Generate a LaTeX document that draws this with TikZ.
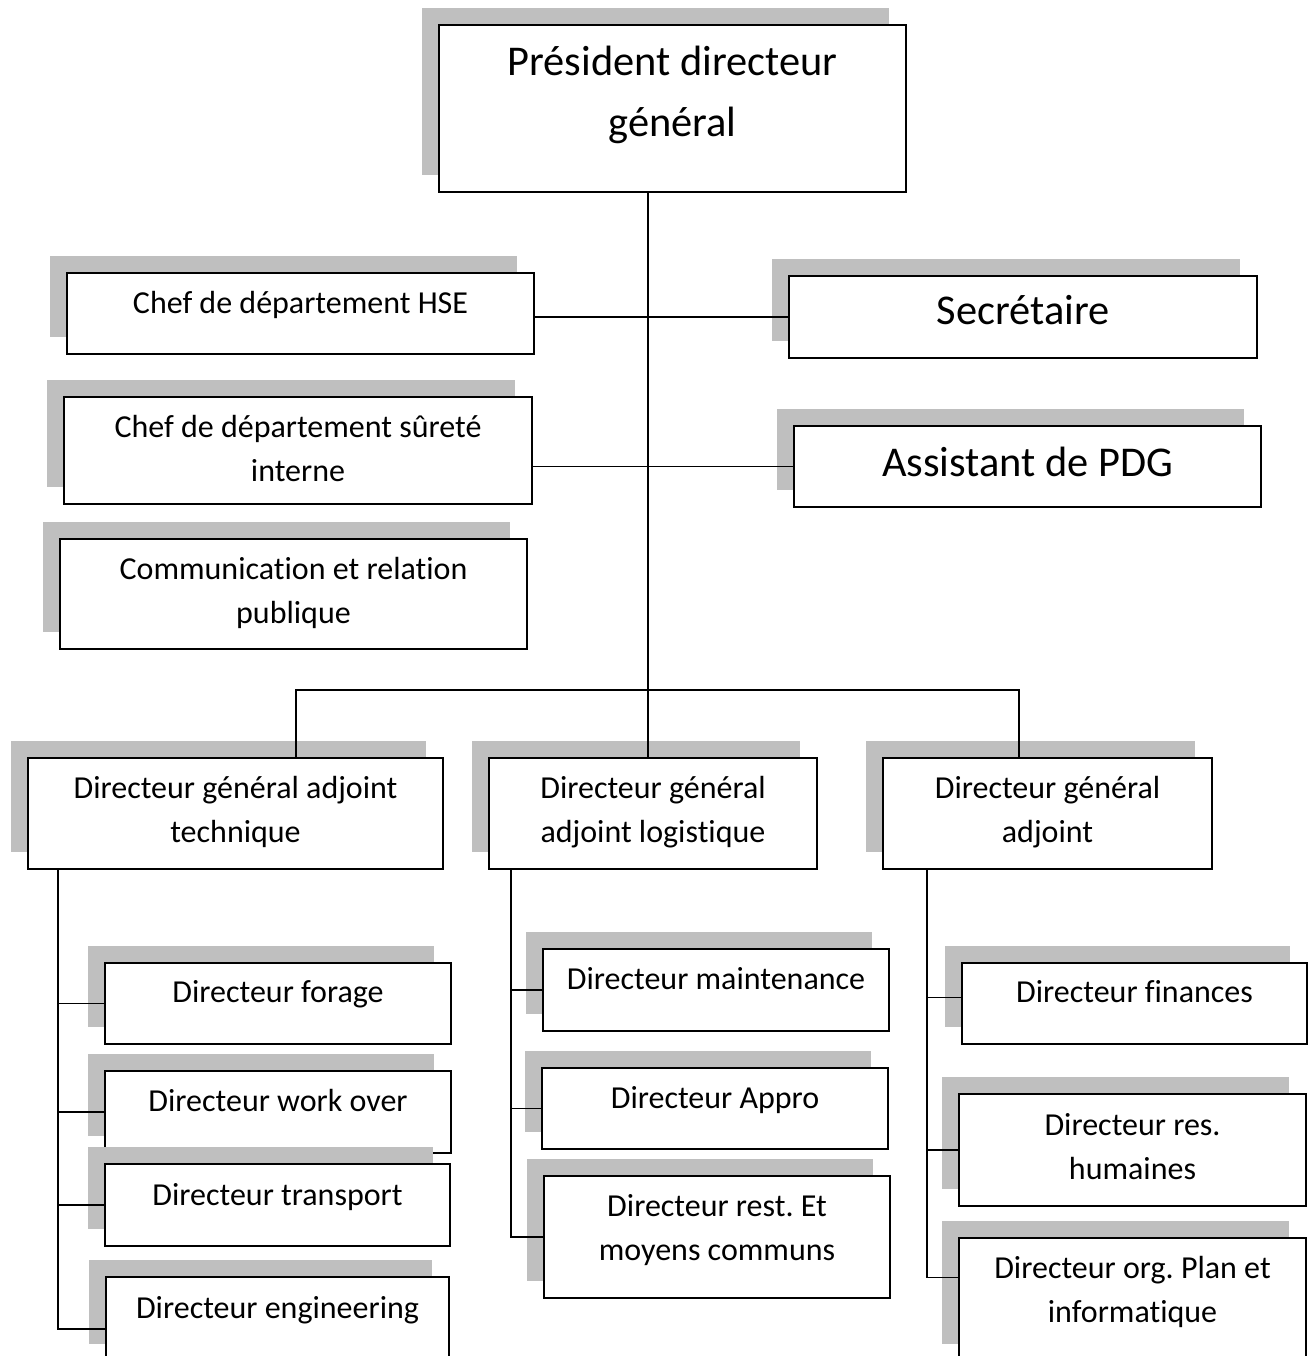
\documentclass[tikz,border=0pt]{standalone}
\usepackage{fontspec}
\setmainfont{Carlito}[Ligatures=NoCommon]
\usetikzlibrary{shadows}
\definecolor{shadowgray}{HTML}{BFBFBF}
\frenchspacing

\tikzset{
    orgbox/.style={draw, fill=white, line width=1.8pt, anchor=north, align=center,
        inner xsep=4pt, inner ysep=0pt, text height=41pt, text depth=41pt,
        font=\fontsize{32}{44}\selectfont,
        drop shadow={shadow xshift=-17pt, shadow yshift=17pt, opacity=1, fill=shadowgray}},
    bigtext/.style={font=\fontsize{42.4}{61}\selectfont},
    link/.style={line width=1.7pt}
}

\begin{document}
\begin{tikzpicture}[x=1pt, y=-1pt]
    \useasboundingbox (0,0) rectangle (1314,1356);
    \clip (0,0) rectangle (1314,1356);

    \node[orgbox, bigtext, minimum width=467pt, text height=112pt, text depth=55pt] (pdg) at (672.5,24) {Président directeur\\général};
    \node[orgbox, minimum width=467pt, text depth=40pt] (hse) at (300.5,272) {Chef de département HSE};
    \node[orgbox, bigtext, minimum width=468pt, text height=49pt, text depth=33pt] (sec) at (1023,275) {Secrétaire};
    \node[orgbox, minimum width=468pt, text height=85pt, text depth=22pt] (surete) at (298,396) {Chef de département sûreté\\interne};
    \node[orgbox, bigtext, minimum width=467pt, text height=51pt, text depth=30pt] (assist) at (1027.5,425) {Assistant de PDG};
    \node[orgbox, minimum width=467pt, text height=85pt, text depth=25pt] (comm) at (293.5,538) {Communication et relation\\publique};

    \node[orgbox, minimum width=415pt, text height=85pt, text depth=26pt] (dgat) at (235.5,757) {Directeur général adjoint\\technique};
    \node[orgbox, minimum width=328pt, text height=85pt, text depth=26pt] (dgal) at (653,757) {Directeur général\\adjoint logistique};
    \node[orgbox, minimum width=329pt, text height=85pt, text depth=26pt] (dga) at (1047.5,757) {Directeur général\\adjoint};

    \node[orgbox, minimum width=346pt, text height=40pt] (forage) at (278,962) {Directeur forage};
    \node[orgbox, minimum width=346pt] (wover) at (278,1070) {Directeur work over};
    \node[orgbox, minimum width=345pt, text height=42pt, text depth=40pt] (transp) at (277.5,1163) {Directeur transport};
    \node[orgbox, minimum width=343pt, text height=42pt, text depth=42pt] (engin) at (277.5,1276) {Directeur engineering};

    \node[orgbox, minimum width=346pt] (maint) at (716,948) {Directeur maintenance};
    \node[orgbox, minimum width=346pt, text depth=40pt] (appro) at (715,1067) {Directeur Appro};
    \node[orgbox, minimum width=346pt, text height=85pt, text depth=37pt] (rest) at (717,1175) {Directeur rest. Et\\moyens communs};

    \node[orgbox, minimum width=345pt, text height=40pt] (fin) at (1134.5,962) {Directeur finances};
    \node[orgbox, minimum width=347pt, text height=86pt, text depth=26pt] (rh) at (1132.5,1093) {Directeur res.\\humaines};
    \node[orgbox, minimum width=347pt, text height=85pt, text depth=38pt] (org) at (1132.5,1237) {Directeur org. Plan et\\informatique};

    \coordinate (bus) at (648,690);
    \coordinate (busl) at (296,690);
    \coordinate (busr) at (1019,690);
    \coordinate (trunkl) at (58,868);
    \coordinate (trunkm) at (511,868);
    \coordinate (trunkr) at (927,868);

    \draw[link] (pdg.south -| bus) -- (bus |- dgal.north);
    \draw[link] (hse.east |- sec) -- (sec.west);
    \draw[link] (surete.east |- assist) -- (assist.west);
    \draw[link] (busl |- dgat.north) -- (busl) -- (busr) -- (busr |- dga.north);

    \draw[link] (trunkl) |- ([yshift=-10pt]engin.west);
    \draw[link] (trunkl |- forage.west) -- (forage.west);
    \draw[link] (trunkl |- wover.west) -- (wover.west);
    \draw[link] (trunkl |- transp.west) -- (transp.west);

    \draw[link] (trunkm) |- (rest.west);
    \draw[link] (trunkm |- maint.west) -- (maint.west);
    \draw[link] (trunkm |- appro.west) -- (appro.west);

    \draw[link] (trunkr) |- ([yshift=22pt]org.west);
    \draw[link] ([yshift=6pt]fin.west -| trunkr) -- ([yshift=6pt]fin.west);
    \draw[link] (trunkr |- rh.west) -- (rh.west);
\end{tikzpicture}
\end{document}
